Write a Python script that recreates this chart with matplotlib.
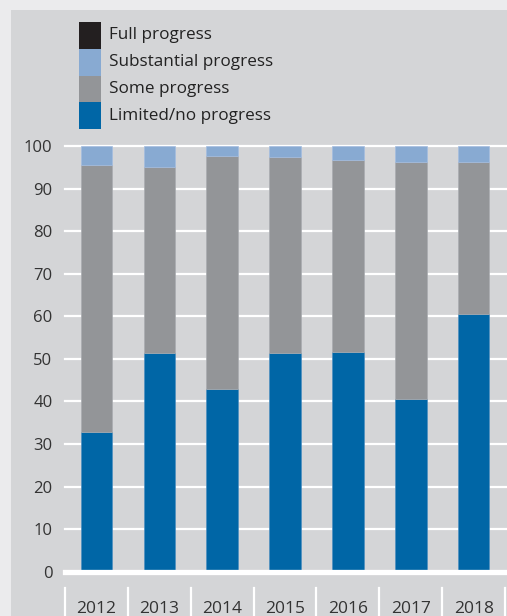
import matplotlib.pyplot as plt
from matplotlib.patches import Rectangle
from matplotlib.transforms import blended_transform_factory

plt.rcParams['font.family'] = ['Open Sans', 'DejaVu Sans']

years = ['2012', '2013', '2014', '2015', '2016', '2017', '2018']
limited = [32.7, 51.3, 43.0, 51.4, 51.7, 40.5, 60.6]
some_top = [95.6, 95.1, 97.7, 97.3, 96.7, 96.2, 96.3]
some = [t - l for t, l in zip(some_top, limited)]
substantial = [100 - t for t in some_top]
full = [0, 0, 0, 0, 0, 0, 0]

labels = ['Full progress', 'Substantial progress', 'Some progress', 'Limited/no progress']
colors = ['#231f20', '#88aad2', '#939598', '#0066a6']

W, H = 507, 616
fig = plt.figure(figsize=(W / 100, H / 100), dpi=100, facecolor='#ebebed')
fig.patches.append(Rectangle((11 / W, 0), 1, 1 - 10 / H, transform=fig.transFigure,
                             facecolor='#d4d5d7', edgecolor='none', zorder=-10))

ax = fig.add_axes([65 / W, 44.3 / H, 1 - 65 / W, 425.7 / H])
ax.set_facecolor('none')
x = list(range(len(years)))
ax.bar(x, limited, width=0.5, color=colors[3], edgecolor='#4f8fc0', linewidth=0.5, zorder=3)
ax.bar(x, some, width=0.5, bottom=limited, color=colors[2], edgecolor='#a9acb0', linewidth=0.5, zorder=3)
ax.bar(x, substantial, width=0.5, bottom=some_top, color=colors[1], edgecolor='#a4bde0', linewidth=0.5, zorder=3)
ax.bar(x, full, width=0.5, bottom=100, color=colors[0], zorder=3)

ax.set_xlim(-0.5, 6.53)
ax.set_ylim(0, 100)
ax.set_yticks(range(0, 101, 10))
ax.tick_params(axis='y', length=0, pad=9, labelsize=12, labelcolor='#333333')
ax.set_xticks([])
for s in ax.spines.values():
    s.set_visible(False)
for v in range(10, 101, 10):
    ax.axhline(v, color='white', linewidth=1.6, zorder=1, clip_on=False)
ax.axhline(0, color='white', linewidth=3.8, zorder=4, clip_on=False)

tr = blended_transform_factory(ax.transData, ax.transAxes)
for i in range(len(years) + 1):
    ax.plot([i - 0.5, i - 0.5], [-0.038, -0.11], color='white', linewidth=1.6,
            transform=tr, clip_on=False)
for i, yr in enumerate(years):
    ax.text(i, -0.088, yr, transform=tr, ha='center', va='center',
            fontsize=12.5, color='#333333')

# legend
for k, (lab, col) in enumerate(zip(labels, colors)):
    y0 = H - 22 - 26.8 * (k + 1)
    fig.patches.append(Rectangle((79 / W, y0 / H), 22 / W, 26.8 / H, transform=fig.transFigure,
                                 facecolor=col, edgecolor='none'))
    fig.text(109 / W, (y0 + 13.4) / H, lab, ha='left', va='center',
             fontsize=12.3, color='#222222')

fig.savefig('out.png', dpi=100, facecolor=fig.get_facecolor())
